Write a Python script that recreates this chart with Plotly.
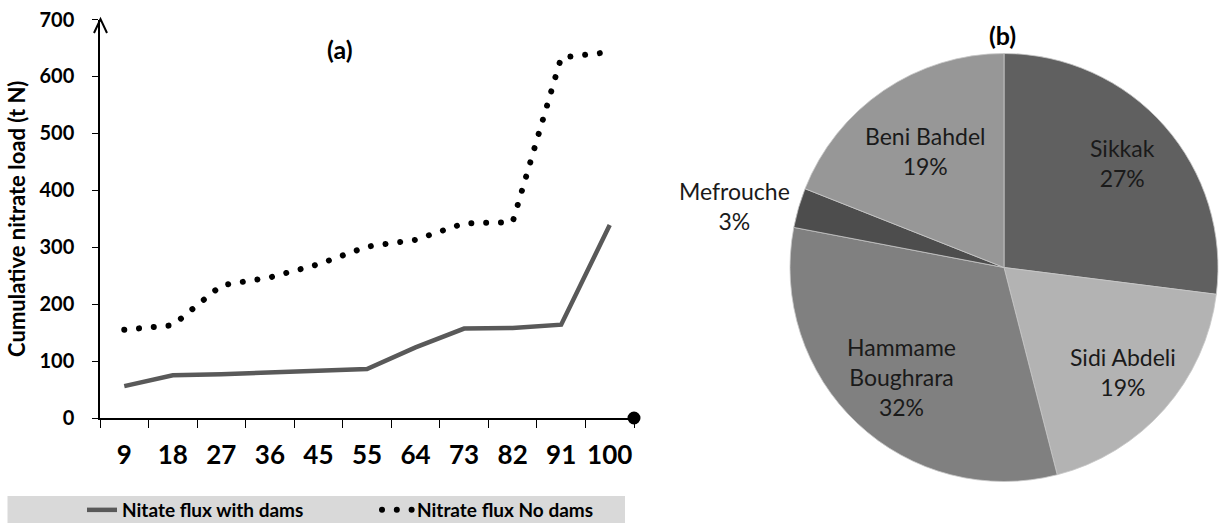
import math
import plotly.graph_objects as go

# ---- data ---------------------------------------------------------------
x_labels = ["9", "18", "27", "36", "45", "55", "64", "73", "82", "91", "100"]
flux_with_dams = [56, 75, 77, 80, 83, 86, 124, 157, 158, 164, 339]
flux_no_dams = [155, 163, 233, 247, 270, 301, 313, 342, 344, 633, 643]

dam_names = ["Sikkak", "Sidi Abdeli", "Hammame<br>Boughrara", "Mefrouche", "Beni Bahdel"]
dam_shares = [27, 19, 32, 3, 19]

# ---- styling ------------------------------------------------------------
W, H = 1219, 523
FONT = "Lato"
slice_colors = ["#606060", "#b3b3b3", "#808080", "#4d4d4d", "#979797"]
label_radius = [0.74, 0.74, 0.70, 1.03, 0.66]   # fraction of pie radius
label_inside = [True, True, True, False, True]


def px_x(x):
    return x / W


def px_y(y):
    return 1 - y / H


fig = go.Figure()

fig.add_trace(go.Scatter(
    x=x_labels, y=flux_with_dams, mode="lines",
    name="Nitate flux with dams",
    line=dict(color="#595959", width=4.5),
))
fig.add_trace(go.Scatter(
    x=x_labels, y=flux_no_dams, mode="lines",
    name="Nitrate flux No dams",
    line=dict(color="black", width=6, dash="6px,9px"),
))

# pie domain (paper fractions)
pie_x = [px_x(790), px_x(1218)]
pie_y = [px_y(482), px_y(53)]
fig.add_trace(go.Pie(
    labels=dam_names, values=dam_shares, sort=False, direction="clockwise",
    rotation=0, textinfo="none", showlegend=False,
    marker=dict(colors=slice_colors, line=dict(color="#c8c8c8", width=0.8)),
    domain=dict(x=pie_x, y=pie_y),
))

# slice labels placed along each slice's bisector
cx = (pie_x[0] + pie_x[1]) / 2 * W
cy = (1 - (pie_y[0] + pie_y[1]) / 2) * H
R = min((pie_x[1] - pie_x[0]) * W, (pie_y[1] - pie_y[0]) * H) / 2
total = sum(dam_shares)
acc = 0
annotations = []
for name, v, f, inside in zip(dam_names, dam_shares, label_radius, label_inside):
    mid = (acc + v / 2) / total * 2 * math.pi
    acc += v
    lx = cx + f * R * math.sin(mid)
    ly = cy - f * R * math.cos(mid)
    annotations.append(dict(
        x=px_x(lx), y=px_y(ly), xref="paper", yref="paper",
        text=f"{name}<br>{round(v / total * 100)}%",
        showarrow=False, align="center",
        xanchor="center" if inside else "right", yanchor="middle",
        font=dict(family=FONT, size=23, color="#1a1a1a"),
    ))

# panel titles
annotations.append(dict(x=px_x(340), y=px_y(49), xref="paper", yref="paper",
                        xanchor="center", yanchor="middle",
                        text="<b>(a)</b>", showarrow=False,
                        font=dict(family=FONT, size=25, color="black")))
annotations.append(dict(x=px_x(1002), y=px_y(35), xref="paper", yref="paper",
                        xanchor="center", yanchor="middle",
                        text="<b>(b)</b>", showarrow=False,
                        font=dict(family=FONT, size=25, color="black")))

# open arrow head at the top of the value axis (pixel geometry)
ax_x, ax_tip, ax_base, ax_half = 100.5, 19, 33, 6.5
arrow_path = (f"M {px_x(ax_x - ax_half)},{px_y(ax_base)} "
              f"L {px_x(ax_x)},{px_y(ax_tip)} "
              f"L {px_x(ax_x + ax_half)},{px_y(ax_base)}")

shapes = [
    # legend band
    dict(type="rect", xref="paper", yref="paper",
         x0=px_x(7.5), x1=px_x(625), y0=0, y1=px_y(496),
         fillcolor="#d9d9d9", line=dict(width=0), layer="below"),
    # round end cap of the category axis
    dict(type="circle", xref="paper", yref="paper",
         xanchor=px_x(634), yanchor=px_y(418),
         xsizemode="pixel", ysizemode="pixel", x0=-6.5, x1=6.5, y0=-6.5, y1=6.5,
         fillcolor="black", line=dict(width=0)),
    dict(type="path", xref="paper", yref="paper", path=arrow_path,
         line=dict(color="black", width=2)),
]

fig.update_layout(
    width=W, height=H,
    margin=dict(l=0, r=0, t=0, b=0, autoexpand=False),
    paper_bgcolor="white", plot_bgcolor="white",
    font=dict(family=FONT, color="black"),
    showlegend=True,
    legend=dict(orientation="h", x=px_x(82), xanchor="left",
                y=px_y(510), yanchor="middle",
                bgcolor="rgba(0,0,0,0)",
                font=dict(family=FONT, size=19, color="black", weight="bold"),
                entrywidth=250, entrywidthmode="pixels"),
    xaxis=dict(
        domain=[px_x(100), px_x(634)], type="category",
        range=[-0.5, len(x_labels) - 0.5],
        showline=True, linecolor="black", linewidth=1.5,
        ticks="outside", ticklen=8, tickwidth=1.2, tickcolor="black",
        tickson="boundaries", showgrid=False, zeroline=False,
        tickangle=0, automargin=False,
        tickfont=dict(family=FONT, size=26, weight="bold"),
        ticklabelstandoff=13,
    ),
    yaxis=dict(
        domain=[px_y(418), px_y(19.5)], range=[0, 700],
        tickvals=[0, 100, 200, 300, 400, 500, 600, 700],
        showline=True, linecolor="black", linewidth=1.5,
        ticks="outside", ticklen=6, tickwidth=1.2, tickcolor="black",
        showgrid=False, zeroline=False, automargin=False,
        tickfont=dict(family=FONT, size=20, weight="bold"),
        ticklabelstandoff=14,
        title=dict(text="Cumulative nitrate load (t N)", standoff=8,
                   font=dict(family=FONT, size=22, weight="bold")),
    ),
    annotations=annotations,
    shapes=shapes,
)

# round dots for the "no dams" series (plot line and legend sample)
post = """
var gd = document.getElementById('{plot_id}');
function roundDots() {
  var traces = gd.querySelectorAll('.scatterlayer .trace');
  var legs = gd.querySelectorAll('.legend .traces');
  var paths = [];
  if (traces.length > 1) traces[1].querySelectorAll('path.js-line').forEach(function(p){paths.push(p);});
  if (legs.length > 1) legs[1].querySelectorAll('.legendlines path').forEach(function(p){paths.push(p);});
  paths.forEach(function(p){
    p.style.strokeLinecap = 'round';
    p.style.strokeDasharray = '0.01px,14.8px';
  });
}
roundDots();
gd.on('plotly_afterplot', roundDots);
"""

fig.write_html("out.html", post_script=post)
